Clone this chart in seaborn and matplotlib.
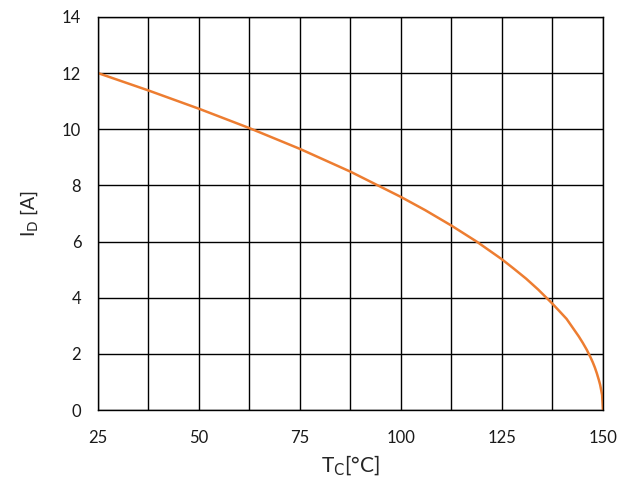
# derating curve: drain current vs case temperature

import pandas as pd
import seaborn as sns
import matplotlib.pyplot as plt
from matplotlib.ticker import MultipleLocator

# values
tc_values = [25, 37.5, 50, 62.5, 75, 87.5, 100, 106, 112.5, 118.75, 125, 128, 131, 134, 137.5,
             139, 141, 142.5, 144, 145, 146, 147, 147.5, 148, 148.5, 149, 149.3, 149.6, 149.8, 150]
id_values = [12.0, 11.38, 10.73, 10.04, 9.30, 8.49, 7.59, 7.12, 6.57, 6.0, 5.37, 5.03, 4.68, 4.29, 3.79,
             3.56, 3.25, 2.94, 2.63, 2.40, 2.15, 1.86, 1.70, 1.52, 1.31, 1.07, 0.91, 0.69, 0.54, 0.0]

x_ticks = [25, 50, 75, 100, 125, 150]
y_ticks = [0, 2, 4, 6, 8, 10, 12, 14]


def main():
    df = pd.DataFrame({"Tc": tc_values, "Id": id_values})

    sns.set_style("white")
    plt.rcParams['font.family'] = ['Lato', 'DejaVu Sans']

    fig = plt.figure(figsize=(6.32, 4.82), dpi=100)
    ax = fig.add_axes([0.155, 0.149, 0.799, 0.816])

    sns.lineplot(data=df, x="Tc", y="Id", color="#ED7D31", linewidth=1.8, ax=ax)

    ax.set_xlim(25, 150)
    ax.set_ylim(0, 14)
    ax.set_xticks(x_ticks)
    ax.set_yticks(y_ticks)
    ax.xaxis.set_minor_locator(MultipleLocator(12.5))
    ax.grid(True, which="both", color="black", linewidth=1.0)
    ax.set_axisbelow(True)
    ax.tick_params(which="both", length=0, labelsize=12, colors="#1a1a1a")
    ax.tick_params(axis="x", pad=14)
    ax.tick_params(axis="y", pad=12)

    for sp in ax.spines.values():
        sp.set_color("black")
        sp.set_linewidth(1.0)

    ax.set_xlabel(r"T$_\mathrm{C}$[°C]", fontsize=15, labelpad=6)
    ax.set_ylabel(r"I$_\mathrm{D}$ [A]", fontsize=14, labelpad=16)

    plt.savefig("out.png", dpi=100)


if __name__ == "__main__":
    main()
